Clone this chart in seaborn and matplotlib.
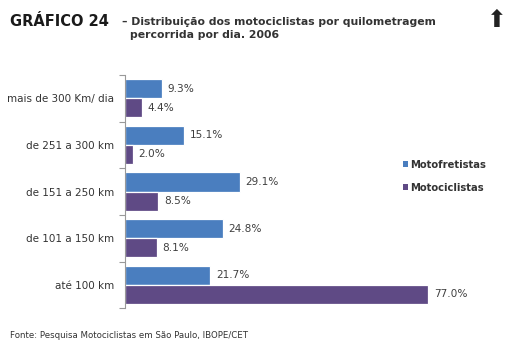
import pandas as pd
import seaborn as sns
import matplotlib.pyplot as plt
import numpy as np

# Data
categories = ['mais de 300 Km/ dia', 'de 251 a 300 km', 'de 151 a 250 km',
              'de 101 a 150 km', 'até 100 km']
motofretistas = [9.3, 15.1, 29.1, 24.8, 21.7]
motociclistas = [4.4, 2.0, 8.5, 8.1, 77.0]
series_names = ['Motofretistas', 'Motociclistas']

df = pd.DataFrame({
    'faixa': categories * 2,
    'valor': motofretistas + motociclistas,
    'grupo': [series_names[0]] * len(categories) + [series_names[1]] * len(categories),
})

sns.set_style('white')
plt.rcParams['font.family'] = ['DejaVu Sans']

fig = plt.figure(figsize=(5.14, 3.6), dpi=100)
ax = fig.add_axes([0.243, 0.144, 0.69, 0.648])

palette = {'Motofretistas': '#4a7ebf', 'Motociclistas': '#5f4a85'}
sns.barplot(data=df, y='faixa', x='valor', hue='grupo', order=categories,
            hue_order=series_names, palette=palette, orient='h', width=0.82,
            saturation=1, linewidth=0.9, edgecolor='white', ax=ax, legend=True)

# value labels
for cont in ax.containers:
    ax.bar_label(cont, labels=[f'{v:.1f}%' for v in cont.datavalues],
                 padding=4, fontsize=7.6, color='#404040')

ax.set_xlim(0, 90)
ax.set_ylim(4.5, -0.5)
ax.set_xlabel('')
ax.set_ylabel('')
ax.set_xticks([])
ax.tick_params(axis='y', which='major', left=False, length=0, labelsize=7.5,
               labelcolor='#333333', pad=8)
ax.set_yticks(np.arange(-0.5, 5, 1), minor=True)
ax.tick_params(axis='y', which='minor', left=True, length=4, width=0.8,
               color='#999999', direction='out')
for s in ['top', 'right', 'bottom']:
    ax.spines[s].set_visible(False)
ax.spines['left'].set_color('#999999')
ax.spines['left'].set_linewidth(0.8)

leg = ax.legend(loc='center left', bbox_to_anchor=(0.77, 0.565), frameon=False,
                handlelength=0.55, handleheight=0.55, handletextpad=0.2,
                labelspacing=1.3, borderpad=0, prop={'weight': 'bold', 'size': 7.2})
for t in leg.get_texts():
    t.set_color('#333333')
for h in leg.legend_handles:
    h.set_linewidth(0)

# titles
fig.text(0.02, 0.94, 'GRÁFICO 24', fontsize=10.5, fontweight='bold',
         color='#1a1a1a', va='center')
fig.text(0.237, 0.94, '– Distribuição dos motociclistas por quilometragem',
         fontsize=7.8, fontweight='bold', color='#333333', va='center')
fig.text(0.253, 0.902, 'percorrida por dia. 2006',
         fontsize=7.8, fontweight='bold', color='#333333', va='center')
fig.text(0.967, 0.945, '⬆', fontsize=17, color='#222222', ha='center', va='center')

fig.text(0.02, 0.069, 'Fonte: Pesquisa Motociclistas em São Paulo, IBOPE/CET',
         fontsize=6.2, color='#333333', va='center')

plt.savefig('out.png', dpi=100)
